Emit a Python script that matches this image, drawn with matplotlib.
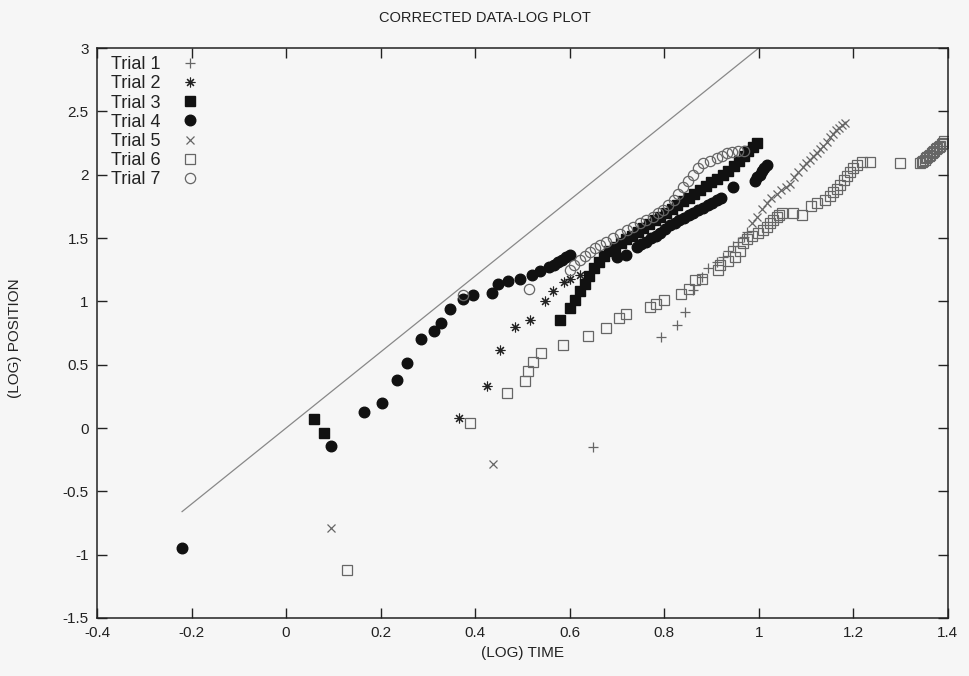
import matplotlib
matplotlib.use("Agg")
import matplotlib.pyplot as plt

plt.rcParams['font.family'] = ['Liberation Sans', 'DejaVu Sans']

# ---- data: log time / log position per trial ----
x1 = [0.65, 0.794, 0.827, 0.845, 0.861, 0.88, 0.893, 0.911, 0.925, 0.936, 0.946, 0.957, 0.968, 0.975]
y1 = [-0.15, 0.72, 0.81, 0.92, 1.09, 1.19, 1.26, 1.31, 1.35, 1.40, 1.44, 1.47, 1.51, 1.55]

x2 = [0.366, 0.425, 0.452, 0.484, 0.517, 0.548, 0.565, 0.588, 0.601, 0.622]
y2 = [0.08, 0.33, 0.62, 0.80, 0.85, 1.00, 1.08, 1.15, 1.18, 1.21]

x3 = [0.06, 0.08, 0.58, 0.60, 0.612, 0.622, 0.632, 0.642, 0.652, 0.662, 0.672, 0.684, 0.696,
      0.708, 0.720, 0.732, 0.744, 0.756, 0.768, 0.780, 0.792, 0.804, 0.816, 0.828, 0.840,
      0.852, 0.864, 0.876, 0.888, 0.900, 0.912, 0.924, 0.936, 0.948, 0.958, 0.968, 0.978,
      0.988, 0.996]
y3 = [0.07, -0.04, 0.85, 0.95, 1.01, 1.08, 1.14, 1.20, 1.26, 1.31, 1.36, 1.40, 1.43,
      1.46, 1.49, 1.52, 1.55, 1.58, 1.61, 1.64, 1.67, 1.70, 1.73, 1.76, 1.79,
      1.82, 1.85, 1.88, 1.91, 1.94, 1.97, 2.00, 2.03, 2.07, 2.11, 2.15, 2.19,
      2.22, 2.25]

x4 = [-0.22, 0.095, 0.165, 0.203, 0.235, 0.256, 0.285, 0.313, 0.328, 0.347, 0.374, 0.395,
      0.435, 0.448, 0.469, 0.495, 0.520, 0.537, 0.556, 0.566, 0.575, 0.584, 0.592, 0.600,
      0.700, 0.720, 0.742, 0.752, 0.762, 0.772, 0.782, 0.792, 0.802, 0.812, 0.822, 0.832,
      0.842, 0.852, 0.862, 0.872, 0.882, 0.892, 0.902, 0.912, 0.920, 0.945, 0.992, 0.997,
      1.002, 1.007, 1.012, 1.017]
y4 = [-0.95, -0.14, 0.13, 0.20, 0.38, 0.51, 0.70, 0.77, 0.83, 0.94, 1.02, 1.05,
      1.07, 1.14, 1.16, 1.18, 1.21, 1.24, 1.27, 1.29, 1.31, 1.33, 1.35, 1.37,
      1.35, 1.37, 1.43, 1.45, 1.47, 1.50, 1.52, 1.54, 1.57, 1.60, 1.62, 1.64,
      1.66, 1.68, 1.70, 1.72, 1.74, 1.76, 1.78, 1.80, 1.82, 1.90, 1.95, 1.98,
      2.00, 2.03, 2.05, 2.08]

x5 = [0.095, 0.438, 0.985, 0.996, 1.007, 1.017, 1.027, 1.038, 1.048, 1.057, 1.066, 1.075,
      1.084, 1.093, 1.100, 1.108, 1.116, 1.123, 1.130, 1.137, 1.144, 1.15, 1.157, 1.163,
      1.17, 1.176, 1.182]
y5 = [-0.79, -0.28, 1.62, 1.67, 1.73, 1.78, 1.82, 1.85, 1.88, 1.90, 1.93, 1.98,
      2.02, 2.06, 2.09, 2.12, 2.15, 2.17, 2.20, 2.23, 2.26, 2.30, 2.32, 2.35,
      2.37, 2.39, 2.41]

x6 = [0.129, 0.389, 0.468, 0.505, 0.512, 0.522, 0.540, 0.586, 0.639, 0.677, 0.705, 0.720,
      0.770, 0.783, 0.800, 0.835, 0.852, 0.866, 0.880, 0.914, 0.918, 0.935, 0.950, 0.960,
      0.967, 0.976, 0.986, 0.998, 1.010, 1.017, 1.024, 1.031, 1.038, 1.044, 1.050, 1.073,
      1.092, 1.110, 1.123, 1.140, 1.150, 1.158, 1.165, 1.172, 1.180, 1.187, 1.193, 1.200,
      1.208, 1.218, 1.235, 1.300, 1.342, 1.345, 1.348, 1.351, 1.354, 1.357, 1.360, 1.363,
      1.366, 1.369, 1.372, 1.375, 1.378, 1.381, 1.384, 1.387, 1.390, 1.393]
y6 = [-1.12, 0.04, 0.28, 0.37, 0.45, 0.52, 0.59, 0.655, 0.73, 0.79, 0.87, 0.90,
      0.955, 0.98, 1.01, 1.06, 1.10, 1.17, 1.18, 1.25, 1.29, 1.32, 1.35, 1.40,
      1.46, 1.49, 1.52, 1.54, 1.56, 1.59, 1.62, 1.64, 1.67, 1.68, 1.70, 1.70,
      1.68, 1.75, 1.78, 1.80, 1.83, 1.86, 1.89, 1.92, 1.96, 1.99, 2.02, 2.05,
      2.08, 2.10, 2.10, 2.09, 2.09, 2.10, 2.11, 2.12, 2.13, 2.14, 2.15, 2.16,
      2.17, 2.18, 2.19, 2.20, 2.21, 2.22, 2.23, 2.24, 2.25, 2.27]

x7 = [0.375, 0.514, 0.60, 0.61, 0.621, 0.632, 0.643, 0.654, 0.664, 0.678, 0.691, 0.706,
      0.721, 0.735, 0.748, 0.762, 0.776, 0.787, 0.797, 0.808, 0.82, 0.83, 0.84, 0.85,
      0.861, 0.872, 0.882, 0.897, 0.911, 0.922, 0.932, 0.944, 0.956, 0.97]
y7 = [1.05, 1.10, 1.25, 1.29, 1.33, 1.36, 1.39, 1.42, 1.445, 1.47, 1.50, 1.53,
      1.56, 1.59, 1.62, 1.645, 1.67, 1.695, 1.72, 1.76, 1.80, 1.85, 1.90, 1.95,
      2.00, 2.05, 2.09, 2.11, 2.13, 2.15, 2.17, 2.18, 2.19, 2.19]

# reference slope-3 line
ref_x = [-0.22, 1.0]
ref_slope = 3.0

x_ticks = [-0.4, -0.2, 0, 0.2, 0.4, 0.6, 0.8, 1, 1.2, 1.4]
x_tick_labels = ['-0.4', '-0.2', '0', '0.2', '0.4', '0.6', '0.8', '1', '1.2', '1.4']
y_ticks = [-1.5, -1, -0.5, 0, 0.5, 1, 1.5, 2, 2.5, 3]
y_tick_labels = ['-1.5', '-1', '-0.5', '0', '0.5', '1', '1.5', '2', '2.5', '3']

# ---- figure ----
bg = '#f6f6f6'
fig = plt.figure(figsize=(9.7, 6.76), dpi=100, facecolor=bg)
ax = fig.add_axes([0.1, 0.0858, 0.877, 0.843], facecolor=bg)

ink = '#222222'
grey = '#666666'

ax.plot(ref_x, [ref_slope * v for v in ref_x], color='#888888', lw=0.9, zorder=1)

ax.plot(x1, y1, ls='none', marker='+', ms=7, mew=0.9, color=grey, label='Trial 1')
ax.plot(x2, y2, ls='none', marker=(8, 2, 0), ms=7, mew=0.8, color=ink, label='Trial 2')
ax.plot(x3, y3, ls='none', marker='s', ms=7.2, color='#111111', mec='#111111', label='Trial 3')
ax.plot(x4, y4, ls='none', marker='o', ms=7.6, color='#111111', mec='#111111', label='Trial 4')
ax.plot(x5, y5, ls='none', marker='x', ms=6, mew=0.9, color=grey, label='Trial 5')
ax.plot(x6, y6, ls='none', marker='s', ms=7.2, mew=0.9, mfc='none', mec=grey, label='Trial 6')
ax.plot(x7, y7, ls='none', marker='o', ms=7.4, mew=0.9, mfc='none', mec=grey, label='Trial 7')

ax.set_xlim(-0.4, 1.4)
ax.set_ylim(-1.5, 3)
ax.set_xticks(x_ticks)
ax.set_xticklabels(x_tick_labels)
ax.set_yticks(y_ticks)
ax.set_yticklabels(y_tick_labels)
ax.tick_params(direction='in', length=7, width=1, top=True, right=True,
               labelsize=11, colors=ink, pad=6)
for s in ax.spines.values():
    s.set_color(ink)
    s.set_linewidth(1.1)

# title and y label are centred on the whole canvas, x label on the plot area
fig.text(0.5, 1 - 18 / 676, 'CORRECTED DATA-LOG PLOT', fontsize=10.5, color=ink,
         ha='center', va='center')
ax.set_xlabel('(LOG) TIME', fontsize=11, color=ink, labelpad=4)
fig.text(15 / 970, 0.5, '(LOG) POSITION', fontsize=11, color=ink,
         rotation=90, ha='center', va='center')

leg = ax.legend(loc='upper left', frameon=False, markerfirst=False, fontsize=13,
                handlelength=1.0, handletextpad=1.16, labelspacing=0.12,
                borderpad=0.2, borderaxespad=0.0, bbox_to_anchor=(0.012, 0.992))
for t in leg.get_texts():
    t.set_color(ink)

fig.savefig('out.png', dpi=100, facecolor=bg)
